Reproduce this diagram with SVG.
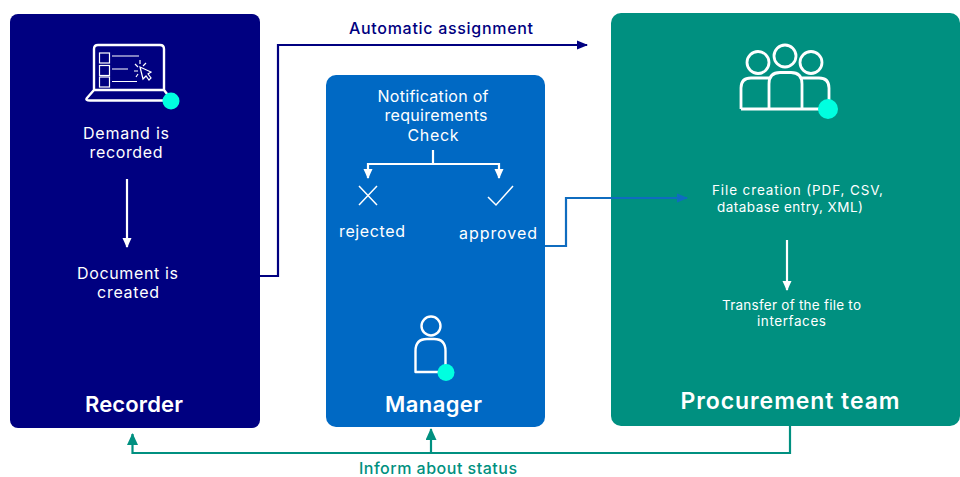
<svg xmlns="http://www.w3.org/2000/svg" width="960" height="477" viewBox="0 0 960 477">
<style>
text{font-family:"Inter","Liberation Sans",sans-serif;fill:#fff;text-anchor:middle;font-size:16px}
.t{font-size:22px;font-weight:600}
.s{font-size:13.5px}
.l{font-weight:500}
.i{fill:none;stroke:#fff;stroke-width:2.4;stroke-linejoin:round}
.p{stroke-width:2.8}
.th{fill:none;stroke:#fff;stroke-width:1.2}
.dot{fill:#00ffe0}
.c{fill:none;stroke-width:2.2}
</style>
<defs>
<marker id="w" markerWidth="10" markerHeight="10" refX="9" refY="5" orient="auto" markerUnits="userSpaceOnUse"><path d="M0 0.5L10 5L0 9.5z" fill="#fff"/></marker>
<marker id="n" markerWidth="11" markerHeight="10" refX="10" refY="5" orient="auto" markerUnits="userSpaceOnUse"><path d="M0 0.5L11 5L0 9.5z" fill="#000080"/></marker>
<marker id="b" markerWidth="11" markerHeight="10" refX="10" refY="5" orient="auto" markerUnits="userSpaceOnUse"><path d="M0 0.5L11 5L0 9.5z" fill="#0f6cbf"/></marker>
<marker id="g" markerWidth="12" markerHeight="11" refX="11" refY="5.5" orient="auto" markerUnits="userSpaceOnUse"><path d="M0 0L12 5.5L0 11z" fill="#009080"/></marker>
</defs>
<rect width="960" height="477" fill="#fff"/>
<g id="recorder">
<rect x="10" y="14" width="250" height="414" rx="8" fill="#000080"/>
<path class="i" d="M94 90V49Q94 45 98 45H160Q164 45 164 49V90M94 90H164L172 100.500H90Q85 100.500 87 98Z"/>
<g class="th"><rect x="99.500" y="53" width="10" height="10"/><rect x="99.500" y="65.500" width="10" height="10"/><rect x="99.500" y="77" width="10" height="10"/><path d="M112 56H139M112 69H128M112 81.500H137M140 67L143 79L146 76L149 80L151 78L148 74L151 72Z"/><path d="M135 64L138 67M140 60V64M146 63L143 66M134 71H138M136 77L138 74"/></g>
<circle class="dot" cx="171" cy="101" r="8.500"/>
<text x="126" y="139" textLength="86">Demand is</text><text x="126" y="158" textLength="73">recorded</text>
<path class="c" stroke="#fff" d="M127 179V247" marker-end="url(#w)"/>
<text x="127.500" y="279" textLength="101">Document is</text><text x="128" y="298" textLength="62">created</text>
<text class="t" x="134" y="412" textLength="98">Recorder</text>
</g>
<g id="manager">
<rect x="326" y="75" width="219" height="352" rx="10" fill="#0069c4"/>
<text x="433" y="102" textLength="111">Notification of</text><text x="436" y="121" textLength="103">requirements</text><text x="433" y="140.500" textLength="51">Check</text>
<path class="c" stroke="#fff" d="M433 150V164"/>
<path class="c" stroke="#fff" d="M433 164H368V178" marker-end="url(#w)"/>
<path class="c" stroke="#fff" d="M433 164H499V178" marker-end="url(#w)"/>
<path class="th" style="stroke-width:1.500" d="M359 186L377 205M377 186L359 205M488 197L496 205L513 186"/>
<text x="372" y="237" textLength="66">rejected</text><text x="498" y="239" textLength="78">approved</text>
<circle class="i" cx="431" cy="326" r="9.500"/>
<path class="i" d="M415.500 372V351Q415.500 339 427 339H434Q445.500 339 445.500 351V372Z"/>
<circle class="dot" cx="446" cy="372.500" r="8.500"/>
<text class="t" x="433.500" y="412" textLength="97">Manager</text>
</g>
<g id="procurement">
<rect x="611" y="13" width="349" height="413" rx="10" fill="#009080"/>
<circle class="i p" cx="758" cy="62.500" r="11"/><circle class="i p" cx="785" cy="56" r="11"/><circle class="i p" cx="811" cy="62.500" r="11"/>
<path class="i p" d="M741 109V88Q741 78 751 78H769M769 109V84Q769 72.500 780 72.500H791Q802 72.500 802 84V109M802 78H819Q829 78 829 88V105M741 109H825"/>
<circle class="dot" cx="828" cy="109" r="10"/>
<text class="s" x="797.500" y="195" textLength="171">File creation (PDF, CSV,</text><text class="s" x="790" y="212" textLength="146">database entry, XML)</text>
<path class="c" stroke="#fff" d="M787 240V290" marker-end="url(#w)"/>
<text class="s" x="791.500" y="310" textLength="139">Transfer of the file to</text><text class="s" x="791.500" y="326" textLength="69">interfaces</text>
<text class="t" x="790" y="409" style="font-size:23px" textLength="219">Procurement team</text>
</g>
<g id="connectors">
<path class="c" stroke="#000080" d="M260 276H278V45H587" marker-end="url(#n)"/>
<path class="c" stroke="#0f6cbf" d="M545 246H566V198H687" marker-end="url(#b)"/>
<path class="c" stroke="#009080" d="M790 426V453H132.500V434" marker-end="url(#g)"/>
<path class="c" stroke="#009080" d="M431 453V429" marker-end="url(#g)"/>
</g>
<text class="l" x="441" y="33.500" style="fill:#000080" textLength="184">Automatic assignment</text>
<text class="l" x="438" y="474" style="fill:#009080" textLength="158">Inform about status</text>
</svg>
